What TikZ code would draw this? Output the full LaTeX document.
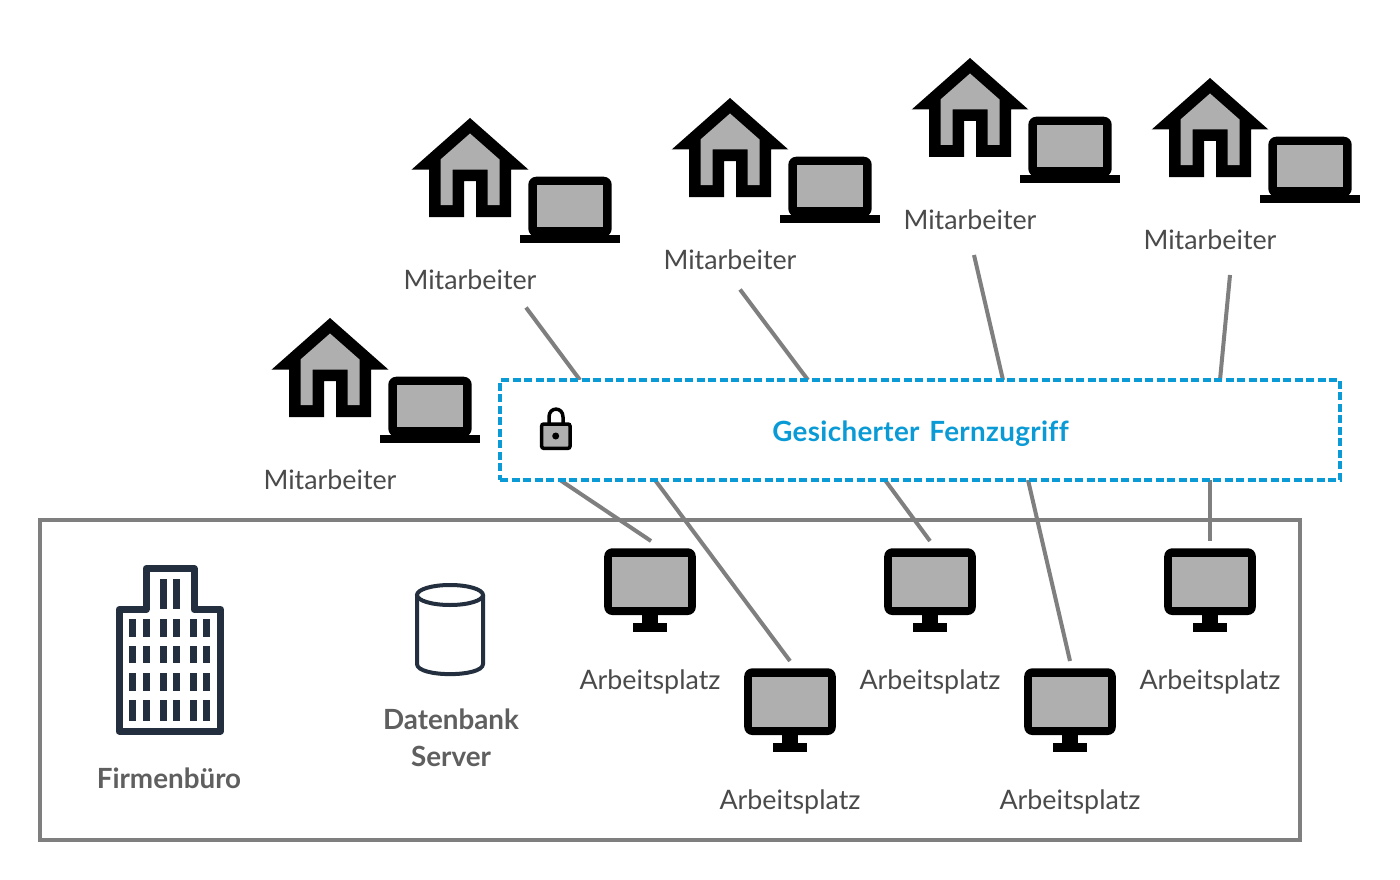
\documentclass[tikz,border=0pt]{standalone}
\usepackage{fontspec}
\setmainfont{Lato}
\definecolor{textgray}{HTML}{4A4A4A}
\definecolor{boldgray}{HTML}{5F5F5F}
\definecolor{linegray}{HTML}{7F7F7F}
\definecolor{icongray}{HTML}{AFAFAF}
\definecolor{accessblue}{HTML}{0A9AD6}
\definecolor{squid}{HTML}{232F3E}
\newfontfamily\widebold[LetterSpace=1.2,WordSpace=1.4,Ligatures=NoCommon]{Lato Bold}
\tikzset{
    label_style/.style={anchor=base, inner sep=0pt, text=textgray, font=\fontsize{26.8}{32}\selectfont},
    title_style/.style={anchor=base, inner sep=0pt, text=boldgray, align=center, font=\fontsize{27.8}{37}\selectfont\bfseries},
    edge_style/.style={draw=linegray, line width=4pt},
    pics/homeicon/.style={code={
        \fill[black] (0,0) -- (58.3,51.5) -- (41,51.5) -- (41,99) -- (6,99) -- (6,63) -- (-6,63) -- (-6,99) -- (-41,99) -- (-41,51.5) -- (-58.3,51.5) -- cycle;
        \fill[icongray] (0,15.5) -- (29.5,41.5) -- (29.5,87) -- (17.5,87) -- (17.5,51.5) -- (-17.5,51.5) -- (-17.5,87) -- (-29.5,87) -- (-29.5,41.5) -- cycle;
    }},
    pics/laptopicon/.style={code={
        \fill[black, rounded corners=8pt] (-41.7,0) rectangle (41.7,60);
        \fill[black] (-50,58.3) rectangle (50,66.6);
        \fill[icongray] (-33.3,8.3) rectangle (33.3,50);
    }},
    pics/screenicon/.style={code={
        \fill[black, rounded corners=8pt] (-45.8,0) rectangle (45.8,66.7);
        \fill[icongray] (-37.7,8.3) rectangle (37.7,58.3);
        \fill[black] (-8.3,66) rectangle (8.3,76);
        \fill[black] (-16.7,75) rectangle (16.7,83.4);
    }}
}
\begin{document}
\begin{tikzpicture}[x=1pt, y=-1pt]
    \useasboundingbox[fill=white] (0,0) rectangle (1400,880);

    % office frame
    \node[draw=linegray, line width=4pt, minimum width=1260pt, minimum height=320pt, inner sep=0pt] (office) at (670,680) {};

    % home workers
    \pic at (330,318) {homeicon};
    \pic at (430,376.7) {laptopicon};
    \pic at (470,118) {homeicon};
    \pic at (570,176.7) {laptopicon};
    \pic at (730,98) {homeicon};
    \pic at (830,156.7) {laptopicon};
    \pic at (970,58) {homeicon};
    \pic at (1070,116.7) {laptopicon};
    \pic at (1210,78) {homeicon};
    \pic at (1310,136.7) {laptopicon};
    \node[label_style] (staff1) at (330,489) {Mitarbeiter};
    \node[label_style] (staff2) at (470,289) {Mitarbeiter};
    \node[label_style] (staff3) at (730,269) {Mitarbeiter};
    \node[label_style] (staff4) at (970,229) {Mitarbeiter};
    \node[label_style] (staff5) at (1210,249) {Mitarbeiter};

    % connector ends
    \coordinate (s2) at (526,307.5);
    \coordinate (s3) at (740,289.5);
    \coordinate (s4) at (974,255);
    \coordinate (s5) at (1230,275);
    \coordinate (t2) at (580,380);
    \coordinate (t3) at (808,380);
    \coordinate (t4) at (1003,380);
    \coordinate (t5) at (1220,380);
    \coordinate (b1) at (560,480);
    \coordinate (b2) at (655,480);
    \coordinate (b3) at (885,480);
    \coordinate (b4) at (1028,480);
    \coordinate (b5) at (1210,480);
    \coordinate (w1) at (651,541);
    \coordinate (w2) at (790,661);
    \coordinate (w3) at (930,541);
    \coordinate (w4) at (1070,661);
    \coordinate (w5) at (1210,541);
    \draw[edge_style] (s2) edge (t2);
    \draw[edge_style] (s3) edge (t3);
    \draw[edge_style] (s4) edge (t4);
    \draw[edge_style] (s5) edge (t5);
    \draw[edge_style] (b1) edge (w1);
    \draw[edge_style] (b2) edge (w2);
    \draw[edge_style] (b3) edge (w3);
    \draw[edge_style] (b4) edge (w4);
    \draw[edge_style] (b5) edge (w5);

    % secure access box
    \node[draw=accessblue, dash pattern=on 8pt off 3.5pt, line width=3.5pt, fill=white, minimum width=840pt, minimum height=100pt, inner sep=0pt] (access) at (920,430) {};
    \node[anchor=base, inner sep=0pt, text=accessblue, font=\fontsize{27.8}{32}\widebold] (accesstext) at (920.5,441) {Gesicherter Fernzugriff};

    % lock
    \draw[black, line width=3.5pt] (549,424) -- (549,417) .. controls (549,406.5) and (563,406.5) .. (563,417) -- (563,424);
    \draw[black, line width=3.5pt, fill=icongray, rounded corners=2pt] (541.7,424) rectangle (570,448.3);
    \fill[black] (555.7,436) circle (3.5pt);

    % workstations
    \pic at (650,548.3) {screenicon};
    \pic at (790,668.3) {screenicon};
    \pic at (930,548.3) {screenicon};
    \pic at (1070,668.3) {screenicon};
    \pic at (1210,548.3) {screenicon};
    \node[label_style] (desk1) at (650,689) {Arbeitsplatz};
    \node[label_style] (desk2) at (790,809) {Arbeitsplatz};
    \node[label_style] (desk3) at (930,689) {Arbeitsplatz};
    \node[label_style] (desk4) at (1070,809) {Arbeitsplatz};
    \node[label_style] (desk5) at (1210,689) {Arbeitsplatz};

    % building
    \draw[squid, line width=7pt, line join=round] (119,609.5) -- (146,609.5) -- (146,568.5) -- (194,568.5) -- (194,609.5) -- (220.5,609.5) -- (220.5,731) -- (119,731) -- cycle;
    \foreach \wx in {159.7,173.3}
        \fill[squid] (\wx,579) rectangle ++(7,30.3);
    \foreach \wx in {129.3,142.7,159.7,173.3,190,203.3} {
        \fill[squid] (\wx,619.3) rectangle ++(7,17.4);
        \fill[squid] (\wx,646) rectangle ++(7,17.4);
        \fill[squid] (\wx,673.3) rectangle ++(7,17.4);
        \fill[squid] (\wx,700.3) rectangle ++(7,20.7);
    }
    \node[title_style] (firm) at (169,788) {Firmenbüro};

    % database
    \draw[squid, line width=4pt] (417,595) -- (417,664) .. controls (417,677.5) and (483,677.5) .. (483,664) -- (483,595);
    \draw[squid, line width=4pt] (450,595) ellipse [x radius=33, y radius=10];
    \node[title_style] (db) at (451,766) {Datenbank\\Server};
\end{tikzpicture}
\end{document}
